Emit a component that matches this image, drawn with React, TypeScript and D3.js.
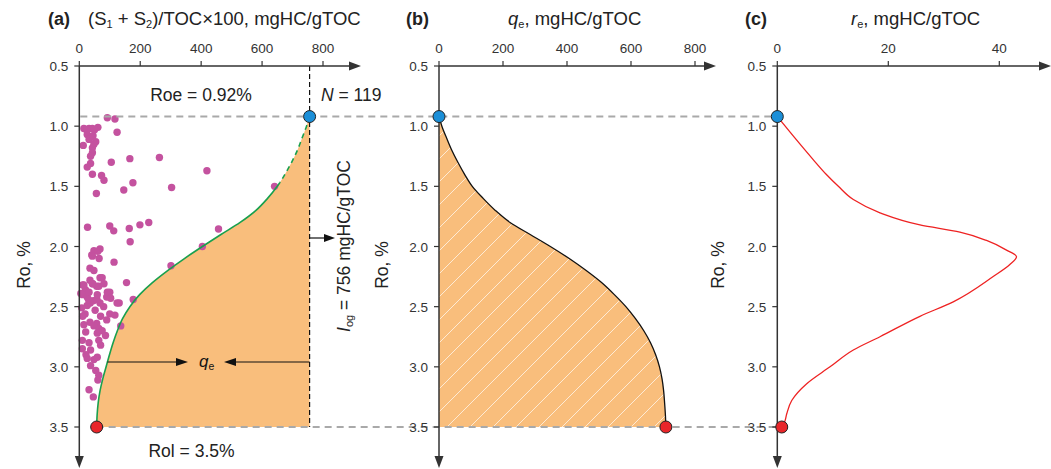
import React from "react";
import * as d3 from "d3";

// ---------- data ----------
const roTicks = [0.5, 1.0, 1.5, 2.0, 2.5, 3.0, 3.5];
const s12Ticks = [0, 200, 400, 600, 800];
const qeTicks = [0, 200, 400, 600, 800];
const reTicks = [0, 20, 40];

const Iog = 756;
const Roe = 0.92;
const Rol = 3.5;

// panel (a): residual hydrocarbon boundary (S1+S2)/TOC x100 vs Ro
const boundaryRo = [0.92, 1.0, 1.1, 1.2, 1.3, 1.4, 1.5, 1.6, 1.7, 1.8, 1.9, 2.0, 2.1, 2.2, 2.3, 2.4, 2.5, 2.6, 2.7, 2.8, 2.9, 3.0, 3.1, 3.2, 3.3, 3.4, 3.5];
const boundaryVal = [756, 746, 731, 716, 697, 675, 650, 618, 580, 528, 465, 404, 345, 290, 240, 198, 166, 142, 125, 111, 99, 88, 77, 68, 62, 58.5, 57];

// panel (b): cumulative expulsion qe
const qeRo = [0.92, 1.0, 1.1, 1.2, 1.3, 1.4, 1.5, 1.6, 1.7, 1.8, 1.9, 2.0, 2.1, 2.2, 2.3, 2.4, 2.5, 2.6, 2.7, 2.8, 2.9, 3.0, 3.1, 3.2, 3.3, 3.4, 3.5];
const qeVal = [0, 9, 24, 40, 59, 80, 104, 138, 176, 222, 285, 348, 407, 460, 508, 548, 584, 614, 640, 661, 677, 689, 697, 702, 705, 707.5, 709];

// panel (c): expulsion rate re
const reRo = [0.92, 1.1, 1.28, 1.4, 1.5, 1.61, 1.72, 1.82, 1.88, 1.95, 2.03, 2.085, 2.15, 2.25, 2.46, 2.58, 2.75, 2.86, 3.0, 3.14, 3.28, 3.39, 3.46, 3.5];
const reVal = [0, 3.2, 6.5, 8.8, 11.0, 13.7, 18.5, 25.7, 32.9, 37.7, 41.3, 43.1, 41.9, 38.9, 31.7, 25.7, 18.5, 13.7, 9.5, 5.3, 2.6, 1.7, 1.3, 0.8];

// panel (a) samples
const sampleVal = [
  92, 117, 15, 32, 43, 61, 24, 50, 124, 26, 37, 32, 45, 54, 13, 43, 43, 37, 48,
  105, 166, 263, 37, 26, 43, 73, 81, 176, 146, 56, 419, 303, 641,
  27, 100, 113, 164, 199, 228, 167, 457, 404, 301,
  68, 48, 41, 65, 114, 35, 48, 43, 61,
  155, 11, 35, 68, 57, 44, 20, 75, 15, 43, 64, 81,
  90, 100, 11, 26, 46, 68, 52, 26, 8, 19, 36, 58, 5, 32, 59, 92, 103,
  131, 177, 124, 100, 117,
  11, 35, 57, 70, 90, 136, 80, 30,
  15, 48, 64, 21, 59, 86, 10, 32, 64, 10, 37, 70, 26, 48, 59, 37, 54, 64, 61, 32, 46, 22, 75
];
const sampleRo = [
  0.93, 0.94, 1.02, 1.02, 1.02, 1.01, 1.03, 1.03, 1.05, 1.07, 1.09, 1.11, 1.08, 1.13, 1.16, 1.18, 1.22, 1.25, 1.15,
  1.30, 1.27, 1.26, 1.31, 1.34, 1.40, 1.41, 1.45, 1.47, 1.53, 1.56, 1.37, 1.51, 1.50,
  1.84, 1.83, 1.87, 1.85, 1.82, 1.80, 1.96, 1.855, 2.0, 2.16,
  2.02, 2.035, 2.07, 2.10, 2.13, 2.18, 2.20, 2.08, 2.04,
  2.30, 2.32, 2.28, 2.26, 2.33, 2.31, 2.36, 2.26, 2.32, 2.31, 2.33, 2.31,
  2.42, 2.38, 2.40, 2.42, 2.45, 2.47, 2.53, 2.49, 2.51, 2.56, 2.47, 2.44, 2.39, 2.38, 2.40, 2.38, 2.43,
  2.47, 2.44, 2.47, 2.56, 2.57,
  2.58, 2.63, 2.64, 2.58, 2.61, 2.66, 2.50, 2.44,
  2.65, 2.66, 2.68, 2.71, 2.72, 2.74, 2.78, 2.80, 2.78, 2.85, 2.86, 2.82, 2.93, 2.94, 2.92, 2.99, 3.03, 3.07, 3.11, 3.19, 3.25, 2.90, 2.70
];

// ---------- styles ----------
const FONT = "'Liberation Sans', Arial, sans-serif";
const AXIS = "#333333";
const ORANGE = "#f9be7c";
const GREEN = "#19a04e";
const MAGENTA = "#c4529f";
const GRAY = "#a9a9a9";

const Y0 = 66;
const Y1 = 427;
const yArrowEnd = 468;

type P = { r: number; v: number };

export default function App() {
  const y = d3.scaleLinear().domain([0.5, 3.5]).range([Y0, Y1]);
  const xa = d3.scaleLinear().domain([0, 800]).range([79.3, 323.0]);
  const xb = d3.scaleLinear().domain([0, 800]).range([439, 695]);
  const xc = d3.scaleLinear().domain([0, 40]).range([777.3, 999.3]);

  const boundary: P[] = boundaryRo.map((r, i) => ({ r, v: boundaryVal[i] }));
  const qe: P[] = qeRo.map((r, i) => ({ r, v: qeVal[i] }));
  const re: P[] = reRo.map((r, i) => ({ r, v: reVal[i] }));

  const areaA = d3
    .area<P>()
    .y((d) => y(d.r))
    .x0(xa(Iog))
    .x1((d) => xa(d.v))
    .curve(d3.curveMonotoneY)(boundary) as string;
  const lineA = d3
    .line<P>()
    .y((d) => y(d.r))
    .x((d) => xa(d.v))
    .curve(d3.curveMonotoneY)(boundary) as string;

  const areaB = d3
    .area<P>()
    .y((d) => y(d.r))
    .x0(xb(0))
    .x1((d) => xb(d.v))
    .curve(d3.curveMonotoneY)(qe) as string;
  const lineB = d3
    .line<P>()
    .y((d) => y(d.r))
    .x((d) => xb(d.v))
    .curve(d3.curveMonotoneY)(qe) as string;

  const lineC = d3
    .line<P>()
    .y((d) => y(d.r))
    .x((d) => xc(d.v))
    .curve(d3.curveMonotoneY)(re) as string;

  const tickFont = 13.5;

  const axes = (
    x: d3.ScaleLinear<number, number>,
    ticks: number[],
    xEnd: number,
    key: string
  ) => {
    const x0 = x(0);
    return (
      <g key={key}>
        <line x1={x0} y1={Y0} x2={xEnd - 8} y2={Y0} stroke={AXIS} strokeWidth={1.5} />
        <path d={`M${xEnd},${Y0} L${xEnd - 12},${Y0 - 4.5} L${xEnd - 12},${Y0 + 4.5} Z`} fill={AXIS} />
        <line x1={x0} y1={Y0} x2={x0} y2={yArrowEnd - 8} stroke={AXIS} strokeWidth={1.5} />
        <path d={`M${x0},${yArrowEnd} L${x0 - 4.5},${yArrowEnd - 12} L${x0 + 4.5},${yArrowEnd - 12} Z`} fill={AXIS} />
        {ticks.map((t) => (
          <g key={"xt" + t}>
            <line x1={x(t)} x2={x(t)} y1={Y0} y2={Y0 - 5} stroke={AXIS} strokeWidth={1.2} />
            <text x={x(t)} y={Y0 - 13} textAnchor="middle" fontSize={tickFont} fill={AXIS} fontFamily={FONT}>
              {t}
            </text>
          </g>
        ))}
        {roTicks.map((t) => (
          <g key={"yt" + t}>
            <line x1={x0} x2={x0 - 5} y1={y(t)} y2={y(t)} stroke={AXIS} strokeWidth={1.2} />
            <text x={x0 - 11} y={y(t) + 5} textAnchor="end" fontSize={tickFont} fill={AXIS} fontFamily={FONT}>
              {t.toFixed(1)}
            </text>
          </g>
        ))}
      </g>
    );
  };

  const roLabel = (x: number, key: string) => (
    <text
      key={key}
      transform={`translate(${x},${265}) rotate(-90)`}
      textAnchor="middle"
      fontSize={17.5}
      fill="#222"
      fontFamily={FONT}
    >
      Ro, %
    </text>
  );

  const yRoe = y(Roe);
  const yRol = y(Rol);
  const xIog = xa(Iog);
  const yQe = 362;
  const yArrowIog = 238;
  const qeStartX = xa(d3.scaleLinear().domain([2.9, 3.0]).range([99, 88])(y.invert(yQe)));

  return (
    <svg
      width={1051}
      height={469}
      style={{ position: "absolute", left: 0, top: 0, background: "#fff" }}
      fontFamily={FONT}
    >
      <defs>
        <pattern id="hatch" patternUnits="userSpaceOnUse" width={23} height={23}>
          <line x1={0} y1={23} x2={23} y2={0} stroke="#ffffff" strokeWidth={0.8} strokeOpacity={0.85} />
          <line x1={-2} y1={2} x2={2} y2={-2} stroke="#ffffff" strokeWidth={0.8} strokeOpacity={0.85} />
          <line x1={21} y1={25} x2={25} y2={21} stroke="#ffffff" strokeWidth={0.8} strokeOpacity={0.85} />
        </pattern>
        <clipPath id="clipTop">
          <rect x={0} y={0} width={400} height={y(1.47)} />
        </clipPath>
        <clipPath id="clipBottom">
          <rect x={0} y={y(1.47)} width={400} height={469} />
        </clipPath>
      </defs>

      {/* ---------- panel (a) ---------- */}
      <path d={areaA} fill={ORANGE} />
      {sampleVal.map((v, i) => (
        <circle key={"s" + i} cx={xa(v)} cy={y(sampleRo[i])} r={3.7} fill={MAGENTA} />
      ))}
      <path d={lineA} fill="none" stroke={GREEN} strokeWidth={1.6} clipPath="url(#clipBottom)" />
      <path d={lineA} fill="none" stroke={GREEN} strokeWidth={1.6} strokeDasharray="5,4" clipPath="url(#clipTop)" />
      <line x1={xIog} x2={xIog} y1={Y0} y2={yRol} stroke="#111" strokeWidth={1.2} strokeDasharray="5,3" />

      {/* qe arrows */}
      <line x1={qeStartX} x2={180} y1={yQe} y2={yQe} stroke="#111" strokeWidth={1.2} />
      <path d={`M${188},${yQe} L${176},${yQe - 4} L${176},${yQe + 4} Z`} fill="#111" />
      <line x1={xIog} x2={232} y1={yQe} y2={yQe} stroke="#111" strokeWidth={1.2} />
      <path d={`M${224},${yQe} L${236},${yQe - 4} L${236},${yQe + 4} Z`} fill="#111" />
      <text x={199} y={yQe + 5} fontSize={17} fill="#111">
        <tspan fontStyle="italic">q</tspan>
        <tspan fontSize={10.5} dy={3}>e</tspan>
      </text>

      {/* Iog arrow */}
      <line x1={xIog} x2={328} y1={yArrowIog} y2={yArrowIog} stroke="#111" strokeWidth={1.2} />
      <path d={`M${335},${yArrowIog} L${324},${yArrowIog - 4} L${324},${yArrowIog + 4} Z`} fill="#111" />
      <text transform={`translate(${350},${246}) rotate(-90)`} textAnchor="middle" fontSize={17.5} fill="#222">
        <tspan fontStyle="italic">I</tspan>
        <tspan fontSize={11} dy={3}>og</tspan>
        <tspan dy={-3}> = 756 mgHC/gTOC</tspan>
      </text>

      {/* ---------- panel (b) ---------- */}
      <path d={areaB} fill={ORANGE} />
      <path d={areaB} fill="url(#hatch)" />
      <path d={lineB} fill="none" stroke="#111" strokeWidth={1.3} />

      {/* ---------- panel (c) ---------- */}
      <path d={lineC} fill="none" stroke="#ee2222" strokeWidth={1.3} />

      {/* gray dashed reference lines */}
      <line x1={xa(0) + 1} x2={xc(0)} y1={yRoe} y2={yRoe} stroke={GRAY} strokeWidth={2} strokeDasharray="7,5" />
      <line x1={xa(boundaryVal[boundaryVal.length - 1])} x2={xc(reVal[reVal.length - 1])} y1={yRol} y2={yRol} stroke={GRAY} strokeWidth={2} strokeDasharray="7,5" />

      {axes(xa, s12Ticks, 361, "axA")}
      {axes(xb, qeTicks, 716, "axB")}
      {axes(xc, reTicks, 1051, "axC")}

      {/* markers */}
      <circle cx={xIog} cy={yRoe} r={6} fill="#1b8fd8" stroke="#222" strokeWidth={1} />
      <circle cx={xa(boundaryVal[boundaryVal.length - 1])} cy={yRol} r={6} fill="#e8262a" stroke="#222" strokeWidth={1} />
      <circle cx={xb(0)} cy={yRoe} r={6} fill="#1b8fd8" stroke="#222" strokeWidth={1} />
      <circle cx={xb(qeVal[qeVal.length - 1])} cy={yRol} r={6} fill="#e8262a" stroke="#222" strokeWidth={1} />
      <circle cx={xc(0)} cy={yRoe} r={6} fill="#1b8fd8" stroke="#222" strokeWidth={1} />
      <circle cx={xc(reVal[reVal.length - 1])} cy={yRol} r={6} fill="#e8262a" stroke="#222" strokeWidth={1} />

      {/* annotations */}
      <text x={201} y={101} textAnchor="middle" fontSize={17.5} fill="#222">Roe = 0.92%</text>
      <text x={321} y={101} fontSize={17.5} fill="#222">
        <tspan fontStyle="italic">N</tspan> = 119
      </text>
      <text x={191.5} y={457} textAnchor="middle" fontSize={17.5} fill="#222">Rol = 3.5%</text>

      {roLabel(30, "ra")}
      {roLabel(388, "rb")}
      {roLabel(724, "rc")}

      {/* titles */}
      <text x={48} y={25} fontSize={18} fontWeight="bold" fill="#222">(a)</text>
      <text x={88} y={25} fontSize={18.5} fill="#222">
        (S<tspan fontSize={11} dy={3}>1</tspan>
        <tspan dy={-3}> + S</tspan>
        <tspan fontSize={11} dy={3}>2</tspan>
        <tspan dy={-3}>)/TOC×100, mgHC/gTOC</tspan>
      </text>
      <text x={406} y={25} fontSize={18} fontWeight="bold" fill="#222">(b)</text>
      <text x={508} y={25} fontSize={18.5} fill="#222">
        <tspan fontStyle="italic">q</tspan>
        <tspan fontSize={11} dy={3}>e</tspan>
        <tspan dy={-3}>, mgHC/gTOC</tspan>
      </text>
      <text x={745} y={25} fontSize={18} fontWeight="bold" fill="#222">(c)</text>
      <text x={851} y={25} fontSize={18.5} fill="#222">
        <tspan fontStyle="italic">r</tspan>
        <tspan fontSize={11} dy={3}>e</tspan>
        <tspan dy={-3}>, mgHC/gTOC</tspan>
      </text>
    </svg>
  );
}
